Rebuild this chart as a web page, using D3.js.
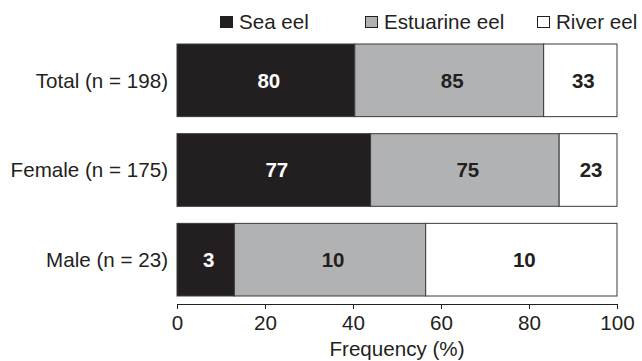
<!DOCTYPE html>
<html><head><meta charset="utf-8">
<script src="https://cdn.jsdelivr.net/npm/d3@7"></script>
<style>
html,body{margin:0;padding:0;background:#fff;}
svg text{font-family:"Liberation Sans",Arial,Helvetica,sans-serif;fill:#231f20;}
</style></head>
<body><svg id="c" width="642" height="361"></svg>
<script>
const groups = ["Total (n = 198)", "Female (n = 175)", "Male (n = 23)"];
const totals = [198, 175, 23];
const seriesNames = ["Sea eel", "Estuarine eel", "River eel"];
const seaEel = [80, 77, 3];
const estuarineEel = [85, 75, 10];
const riverEel = [33, 23, 10];
const xTicks = [0, 20, 40, 60, 80, 100];
const colors = ["#231f20", "#b1b2b3", "#ffffff"];

(function () {
const svg = d3.select("#c");
const fs = "20.6px";
const mLeft = 177, mRight = 617, mTop = 44, mBottom = 296, axisY = 304;
const x = d3.scaleLinear().domain([0, 100]).range([mLeft, mRight]);
const y = d3.scaleBand().domain(groups).range([mTop, mBottom]).paddingInner(0.19).paddingOuter(0);

const series = [seaEel, estuarineEel, riverEel];
groups.forEach((g, i) => {
  let cum = 0;
  series.forEach((s, k) => {
    const pct = s[i] / totals[i] * 100;
    const x0 = x(cum), x1 = x(cum + pct);
    svg.append("rect")
      .attr("x", x0).attr("y", y(g))
      .attr("width", x1 - x0).attr("height", y.bandwidth())
      .attr("fill", colors[k]).attr("stroke", "#3a3a3a").attr("stroke-width", 1);
    svg.append("text")
      .attr("x", (x0 + x1) / 2 + 3).attr("y", y(g) + y.bandwidth() / 2)
      .attr("dy", "0.36em").attr("text-anchor", "middle")
      .style("font-size", "20.5px").style("font-weight", "bold")
      .style("fill", k === 0 ? "#ffffff" : "#231f20")
      .text(s[i]);
    cum += pct;
  });
  svg.append("text")
    .attr("x", 168).attr("y", y(g) + y.bandwidth() / 2)
    .attr("dy", "0.36em").attr("text-anchor", "end")
    .style("font-size", fs).text(g);
});

const ax = svg.append("g").attr("transform", `translate(0,${axisY})`)
  .call(d3.axisBottom(x).tickValues(xTicks).tickSizeInner(5).tickSizeOuter(5).tickPadding(6));
ax.select(".domain").attr("stroke", "#231f20");
ax.selectAll(".tick line").attr("stroke", "#231f20");
ax.selectAll(".tick text").style("font-size", fs).attr("fill", "#231f20")
  .style("font-family", '"Liberation Sans",Arial,sans-serif');

svg.append("text").attr("x", x(50)).attr("y", 356).attr("text-anchor", "middle")
  .style("font-size", fs).text("Frequency (%)");

const legX = [220, 365, 537];
seriesNames.forEach((n, k) => {
  svg.append("rect").attr("x", legX[k] + 0.5).attr("y", 16.5).attr("width", 12).attr("height", 11)
    .attr("fill", colors[k]).attr("stroke", "#231f20").attr("stroke-width", 1);
  svg.append("text").attr("x", legX[k] + 19).attr("y", 28.5)
    .style("font-size", fs).text(n);
});
})();
</script></body></html>
